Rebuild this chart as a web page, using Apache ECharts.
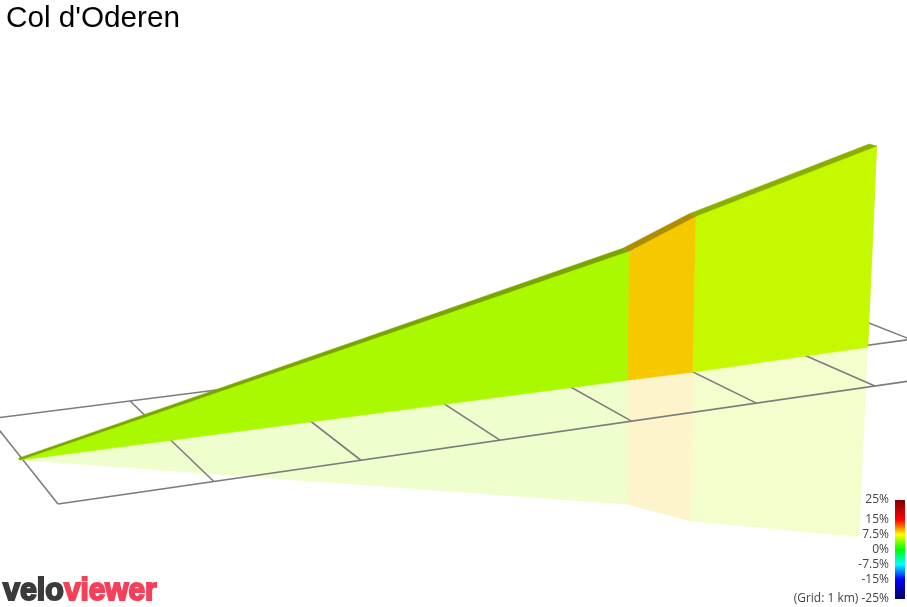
<!DOCTYPE html>
<html>
<head>
<meta charset="utf-8">
<title>Col d'Oderen</title>
<style>
  html, body { margin: 0; padding: 0; background: #fff; }
  #main { width: 907px; height: 607px; }
</style>
<script src="https://cdn.jsdelivr.net/npm/echarts@6/dist/echarts.min.js"></script>
</head>
<body>
<div id="main"></div>
<script>
// route, in km on the ground grid, elevation in m
const routeAlong = [-0.018, 4.463, 5.0, 6.57];
const routeAcross = [0.489, 0.462, 0.452, 0.468];
const routeElevation = [556, 759, 803, 884];
const ribbonDepth = [0.022, 0.05, 0.05, 0.05];

// ground grid, 1 km cells
const gridColumns = [0, 1, 2, 3, 4, 5, 6];
const gridEdges = [
    [0, 0, 7, 0],
    [0, 1, 7, 1],
    [7, 1, 7, 0.49],
    [7, 0.49, 6.5, 0.49]
];

// gradient colour scale
const scaleTicks = [-25, -15, -7.5, 0, 7.5, 15, 25];
const scaleColors = ['#000060', '#0000ff', '#00ffff', '#00ff00', '#ffff00', '#ff0000', '#800000'];

const wallColors = ['#aaf900', '#f6c800', '#c4f900'];
const ribbonColors = ['#7aa500', '#ad8c00', '#89ad00'];

// camera fitted on the grid, gives picture x/y from km + height
const ELEV_SCALE = 1.077e-4;
function project(along, across, elevation) {
    const q = -ELEV_SCALE * (elevation - routeElevation[0]);
    const w = 0.02978 * along + 0.1324 * across + 1 + q;
    return [
        (162.2 * along - 69.1 * across + 58 + 559 * q) / w,
        (-8.17 * along - 29.8 * across + 504 + 7300 * q) / w
    ];
}

const segments = routeElevation.slice(1).map((_, i) => i);
const mirror = e => 2 * routeElevation[0] - e;

function wallPoints(i, flip) {
    const h = flip ? mirror : e => e;
    return [
        project(routeAlong[i], routeAcross[i], routeElevation[0]),
        project(routeAlong[i + 1], routeAcross[i + 1], routeElevation[0]),
        project(routeAlong[i + 1], routeAcross[i + 1], h(routeElevation[i + 1])),
        project(routeAlong[i], routeAcross[i], h(routeElevation[i]))
    ];
}

function ribbonPoints(i) {
    return [
        project(routeAlong[i], routeAcross[i], routeElevation[i]),
        project(routeAlong[i + 1], routeAcross[i + 1], routeElevation[i + 1]),
        project(routeAlong[i + 1], routeAcross[i + 1] + ribbonDepth[i + 1], routeElevation[i + 1]),
        project(routeAlong[i], routeAcross[i] + ribbonDepth[i], routeElevation[i])
    ];
}

function polygon(api, points, style) {
    return {
        type: 'polygon',
        shape: { points: points.map(p => api.coord(p)) },
        style: style
    };
}

const gridSegments = gridColumns.map(u => [u, 0, u, 1]).concat(gridEdges);

const chart = echarts.init(document.getElementById('main'));

chart.setOption({
    animation: false,
    backgroundColor: '#ffffff',
    title: {
        text: "Col d'Oderen",
        left: 6,
        top: 4,
        padding: 0,
        textStyle: {
            fontFamily: 'Liberation Sans',
            fontSize: 29.7,
            fontWeight: 'normal',
            color: '#000000'
        }
    },
    grid: [
        { left: 0, top: 0, width: 907, height: 607 },
        { left: 895, top: 500, width: 10, height: 99 }
    ],
    xAxis: [
        { type: 'value', gridIndex: 0, min: 0, max: 907, show: false },
        { type: 'value', gridIndex: 1, min: 0, max: 1, show: false }
    ],
    yAxis: [
        { type: 'value', gridIndex: 0, min: 0, max: 607, inverse: true, show: false },
        {
            type: 'value',
            gridIndex: 1,
            min: -25,
            max: 25,
            axisLine: { show: false },
            axisTick: { show: false, customValues: scaleTicks },
            splitLine: { show: false },
            axisLabel: {
                customValues: scaleTicks,
                margin: 6,
                fontFamily: 'Open Sans',
                fontSize: 12,
                color: '#444444',
                formatter: v => (v === -25 ? '(Grid: 1 km) -25%' : v + '%')
            }
        }
    ],
    series: [
        {
            // reflection on the ground
            type: 'custom',
            xAxisIndex: 0,
            yAxisIndex: 0,
            silent: true,
            data: segments,
            renderItem: (params, api) => {
                const i = api.value(0);
                return polygon(api, wallPoints(i, true), { fill: wallColors[i], opacity: 0.2 });
            }
        },
        {
            type: 'custom',
            xAxisIndex: 0,
            yAxisIndex: 0,
            silent: true,
            data: gridSegments,
            renderItem: (params, api) => {
                const a = api.coord(project(api.value(0), api.value(1), routeElevation[0]));
                const b = api.coord(project(api.value(2), api.value(3), routeElevation[0]));
                return {
                    type: 'line',
                    shape: { x1: a[0], y1: a[1], x2: b[0], y2: b[1] },
                    style: { stroke: '#7c7c7c', lineWidth: 1.6, fill: null }
                };
            }
        },
        {
            type: 'custom',
            xAxisIndex: 0,
            yAxisIndex: 0,
            silent: true,
            data: segments,
            renderItem: (params, api) => {
                const i = api.value(0);
                return polygon(api, wallPoints(i, false), {
                    fill: wallColors[i],
                    stroke: wallColors[i],
                    lineWidth: 0.8
                });
            }
        },
        {
            type: 'custom',
            xAxisIndex: 0,
            yAxisIndex: 0,
            silent: true,
            data: segments,
            renderItem: (params, api) => {
                const i = api.value(0);
                return polygon(api, ribbonPoints(i), {
                    fill: ribbonColors[i],
                    stroke: ribbonColors[i],
                    lineWidth: 0.5
                });
            }
        },
        {
            // colour scale bar
            type: 'custom',
            xAxisIndex: 1,
            yAxisIndex: 1,
            silent: true,
            data: [[0, -25, 1, 25]],
            renderItem: (params, api) => {
                const a = api.coord([api.value(0), api.value(3)]);
                const b = api.coord([api.value(2), api.value(1)]);
                return {
                    type: 'rect',
                    shape: { x: a[0], y: a[1], width: b[0] - a[0], height: b[1] - a[1] },
                    style: {
                        fill: new echarts.graphic.LinearGradient(0, 1, 0, 0, scaleTicks.map((t, i) => ({
                            offset: (t + 25) / 50,
                            color: scaleColors[i]
                        })))
                    }
                };
            }
        }
    ],
    graphic: [
        {
            type: 'text',
            x: 3,
            y: 607,
            scaleX: 0.95,
            style: {
                text: 'velo',
                textVerticalAlign: 'bottom',
                font: 'bold 32px "Liberation Sans"',
                fill: '#3d3b3a',
                stroke: '#3d3b3a',
                lineWidth: 2
            }
        },
        {
            type: 'text',
            x: 64,
            y: 607,
            scaleX: 0.93,
            style: {
                text: 'viewer',
                textVerticalAlign: 'bottom',
                font: 'bold 32px "Liberation Sans"',
                fill: '#f5405a',
                stroke: '#f5405a',
                lineWidth: 2
            }
        }
    ]
});
</script>
</body>
</html>
